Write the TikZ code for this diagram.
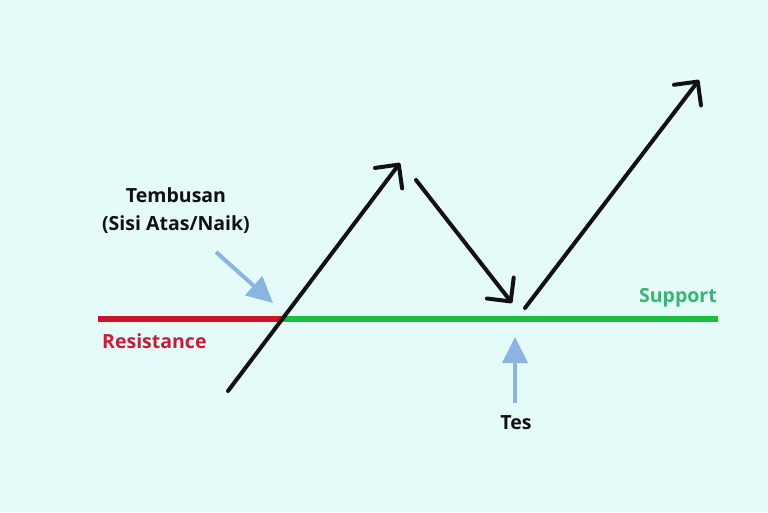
\documentclass[tikz,border=0pt]{standalone}
\usepackage{fontspec}
\setmainfont{Open Sans}
\usetikzlibrary{arrows.meta}
\definecolor{bgc}{RGB}{229,251,250}
\definecolor{resred}{RGB}{208,18,36}
\definecolor{supgreen}{RGB}{28,190,62}
\definecolor{restext}{RGB}{192,32,58}
\definecolor{suptext}{RGB}{56,182,112}
\definecolor{hintblue}{RGB}{140,180,225}
\definecolor{ink}{RGB}{17,17,17}
\tikzset{
  priceline/.style={draw=ink, line width=4pt, line cap=round,
    -{Straight Barb[length=17pt,width=34pt,line join=round,line cap=round]}},
  hint/.style={draw=hintblue, line width=4pt,
    -{Triangle[length=26pt,width=25pt]}},
  lbl/.style={font=\bfseries\fontsize{19.5}{24}\selectfont, inner sep=0pt},
  level/.style={line width=6pt}
}
\begin{document}
\begin{tikzpicture}[x=1pt,y=-1pt]
\fill[bgc] (0,0) rectangle (768,512);
\useasboundingbox (0,0) rectangle (768,512);
% coordinates
\coordinate (rl) at (98,319);
\coordinate (cross) at (283,319);
\coordinate (gr) at (718,319);
\coordinate (a1s) at (228,391);
\coordinate (a1e) at (400,163);
\coordinate (a2s) at (416,180);
\coordinate (a2e) at (512,303);
\coordinate (a3s) at (525,308);
\coordinate (a3e) at (699,80);
\coordinate (b1s) at (216,252);
\coordinate (b1e) at (273,303);
\coordinate (b2s) at (515,403);
\coordinate (b2e) at (515,337);
% levels
\draw[level, resred] (rl) -- (cross);
\draw[level, supgreen] (cross) -- (gr);
% price path
\draw[priceline] (a1s) -- (a1e);
\draw[priceline] (a2s) -- (a2e);
\draw[priceline] (a3s) -- (a3e);
% hints
\draw[hint] (b1s) -- (b1e);
\draw[hint] (b2s) -- (b2e);
% labels
\node[lbl, align=center, text=ink] (tembus) at (176,211) {Tembusan\\[4pt](Sisi Atas/Naik)};
\node[lbl, text=restext, anchor=west] (res) at (102,341) {Resistance};
\node[lbl, text=suptext, anchor=east] (sup) at (717,298) {Support};
\node[lbl, text=ink] (tes) at (516,423) {Tes};
\end{tikzpicture}
\end{document}
